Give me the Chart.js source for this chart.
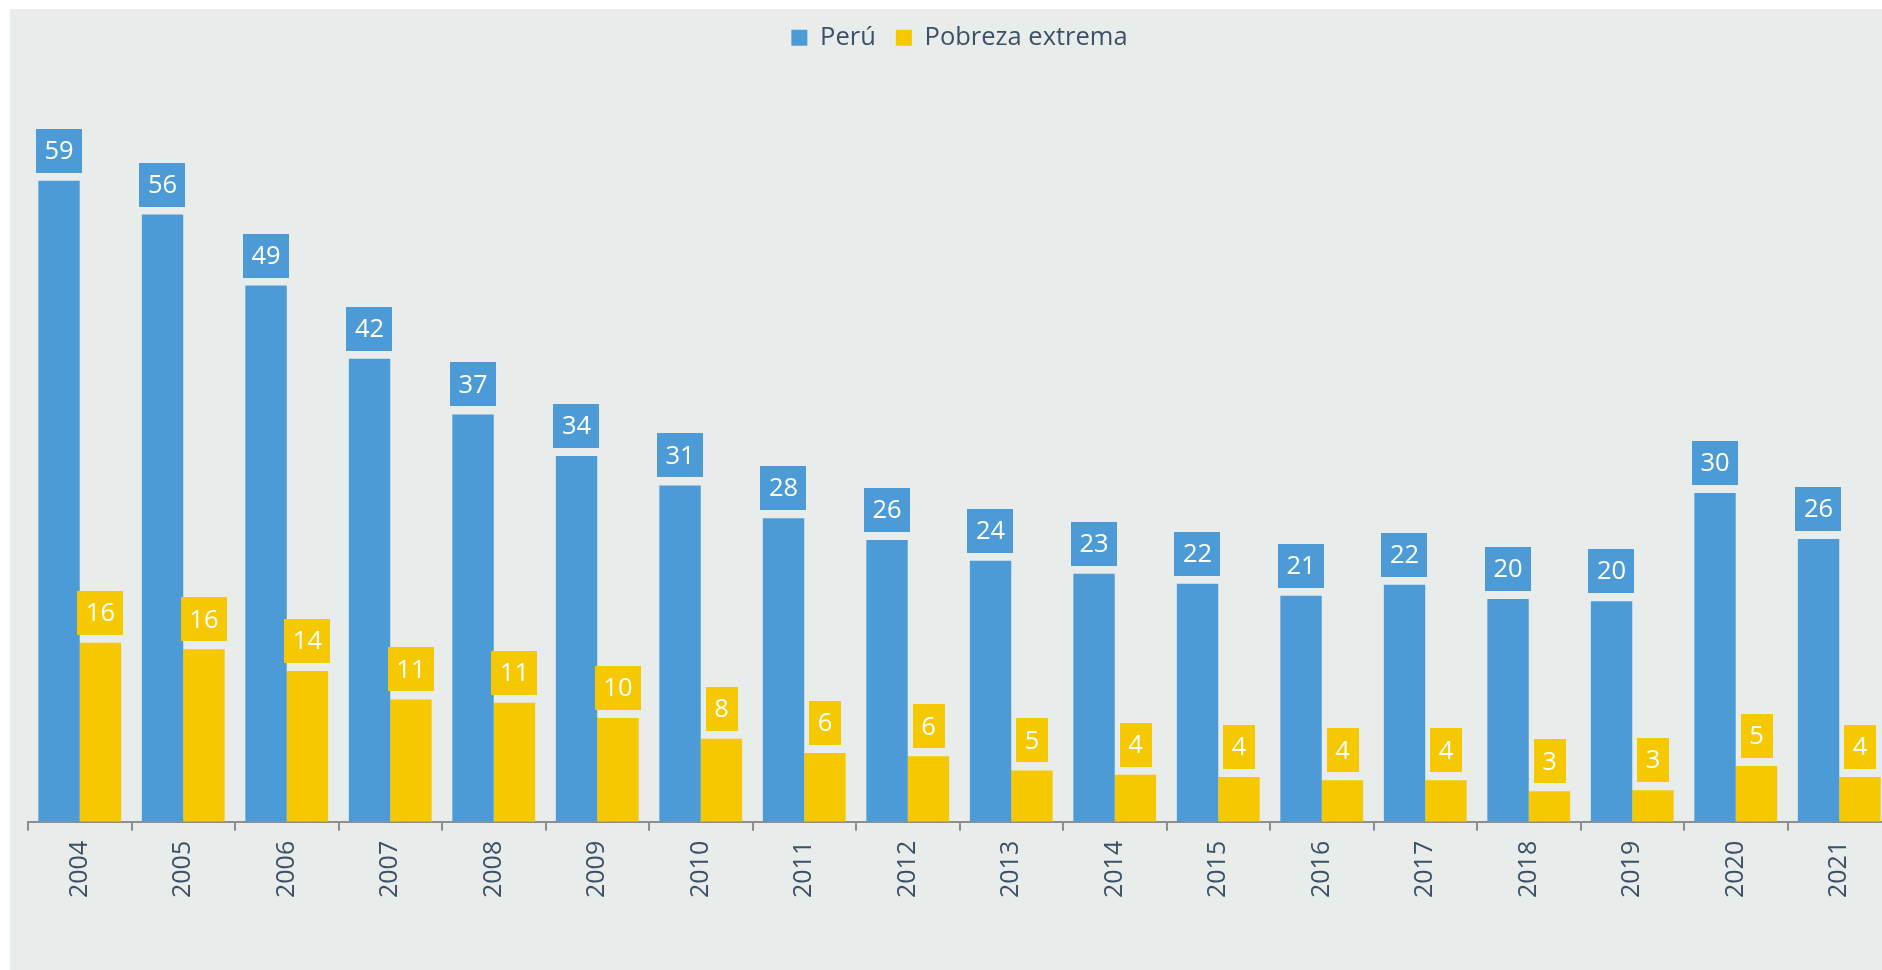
<!DOCTYPE html>
<html>
<head>
<meta charset="utf-8">
<script src="https://cdn.jsdelivr.net/npm/chart.js@4.4.1/dist/chart.umd.min.js"></script>
<style>
  html, body { margin: 0; padding: 0; background: #fff; overflow: hidden; }
  #wrap { position: absolute; left: 10px; top: 9px; width: 1872px; height: 961px; background: #e8edec; overflow: hidden; }
  #wrap canvas { position: absolute; left: 0; top: 0; }
</style>
</head>
<body>
<div id="wrap"><canvas id="chart" width="1900" height="961"></canvas></div>
<script>
// Pobreza monetaria, Perú vs pobreza extrema (%)
const years = ['2004', '2005', '2006', '2007', '2008', '2009', '2010', '2011', '2012',
    '2013', '2014', '2015', '2016', '2017', '2018', '2019', '2020', '2021'];
const peru = [58.7, 55.6, 49.1, 42.4, 37.3, 33.5, 30.8, 27.8, 25.8, 23.9, 22.7, 21.8, 20.7, 21.7, 20.4, 20.2, 30.1, 25.9];
const extrema = [16.4, 15.8, 13.8, 11.2, 10.9, 9.5, 7.6, 6.3, 6.0, 4.7, 4.3, 4.1, 3.8, 3.8, 2.8, 2.9, 5.1, 4.1];

const BLUE = '#4c9bd6';
const YELLOW = '#f5c800';
const TEXT = '#3d5166';
const FONT = '"Open Sans", "Noto Sans", sans-serif';

// boxed value labels above each bar
const boxLabels = {
    id: 'boxLabels',
    afterDatasetsDraw(chart) {
        const ctx = chart.ctx;
        ctx.save();
        ctx.font = `25.5px ${FONT}`;
        ctx.textAlign = 'center';
        ctx.textBaseline = 'middle';
        chart.data.datasets.forEach((ds, di) => {
            const meta = chart.getDatasetMeta(di);
            meta.data.forEach((bar, i) => {
                const txt = String(Math.round(ds.data[i]));
                const w = ctx.measureText(txt).width + 17;
                const h = 44;
                const bottom = bar.y - 8;
                ctx.fillStyle = ds.backgroundColor;
                ctx.fillRect(Math.round(bar.x - w / 2), Math.round(bottom - h), Math.round(w), h);
                ctx.fillStyle = '#ffffff';
                ctx.fillText(txt, bar.x, bottom - h / 2 + 1);
            });
        });
        ctx.restore();
    }
};

new Chart(document.getElementById('chart'), {
    type: 'bar',
    data: {
        labels: years,
        datasets: [
            { label: 'Perú', data: peru, backgroundColor: BLUE, categoryPercentage: 0.8, barPercentage: 1.0 },
            { label: 'Pobreza extrema', data: extrema, backgroundColor: YELLOW, categoryPercentage: 0.8, barPercentage: 1.0 },
        ],
    },
    options: {
        responsive: false,
        animation: false,
        layout: { padding: { left: 18, right: 19, top: -4, bottom: 62 } },
        plugins: {
            legend: {
                position: 'top',
                labels: { boxWidth: 16, boxHeight: 16, padding: 20, color: TEXT, font: { family: FONT, size: 25.5 } },
            },
            tooltip: { enabled: false },
        },
        scales: {
            y: { display: false, min: 0, max: 69.7 },
            x: {
                border: { display: true, color: '#8e8e8e', width: 2 },
                grid: { display: true, drawOnChartArea: false, drawTicks: true, tickLength: 9, color: '#8e8e8e', lineWidth: 2, offset: true },
                ticks: { color: TEXT, font: { family: FONT, size: 25 }, minRotation: 90, maxRotation: 90, padding: 10 },
            },
        },
    },
    plugins: [boxLabels],
});
</script>
</body>
</html>
